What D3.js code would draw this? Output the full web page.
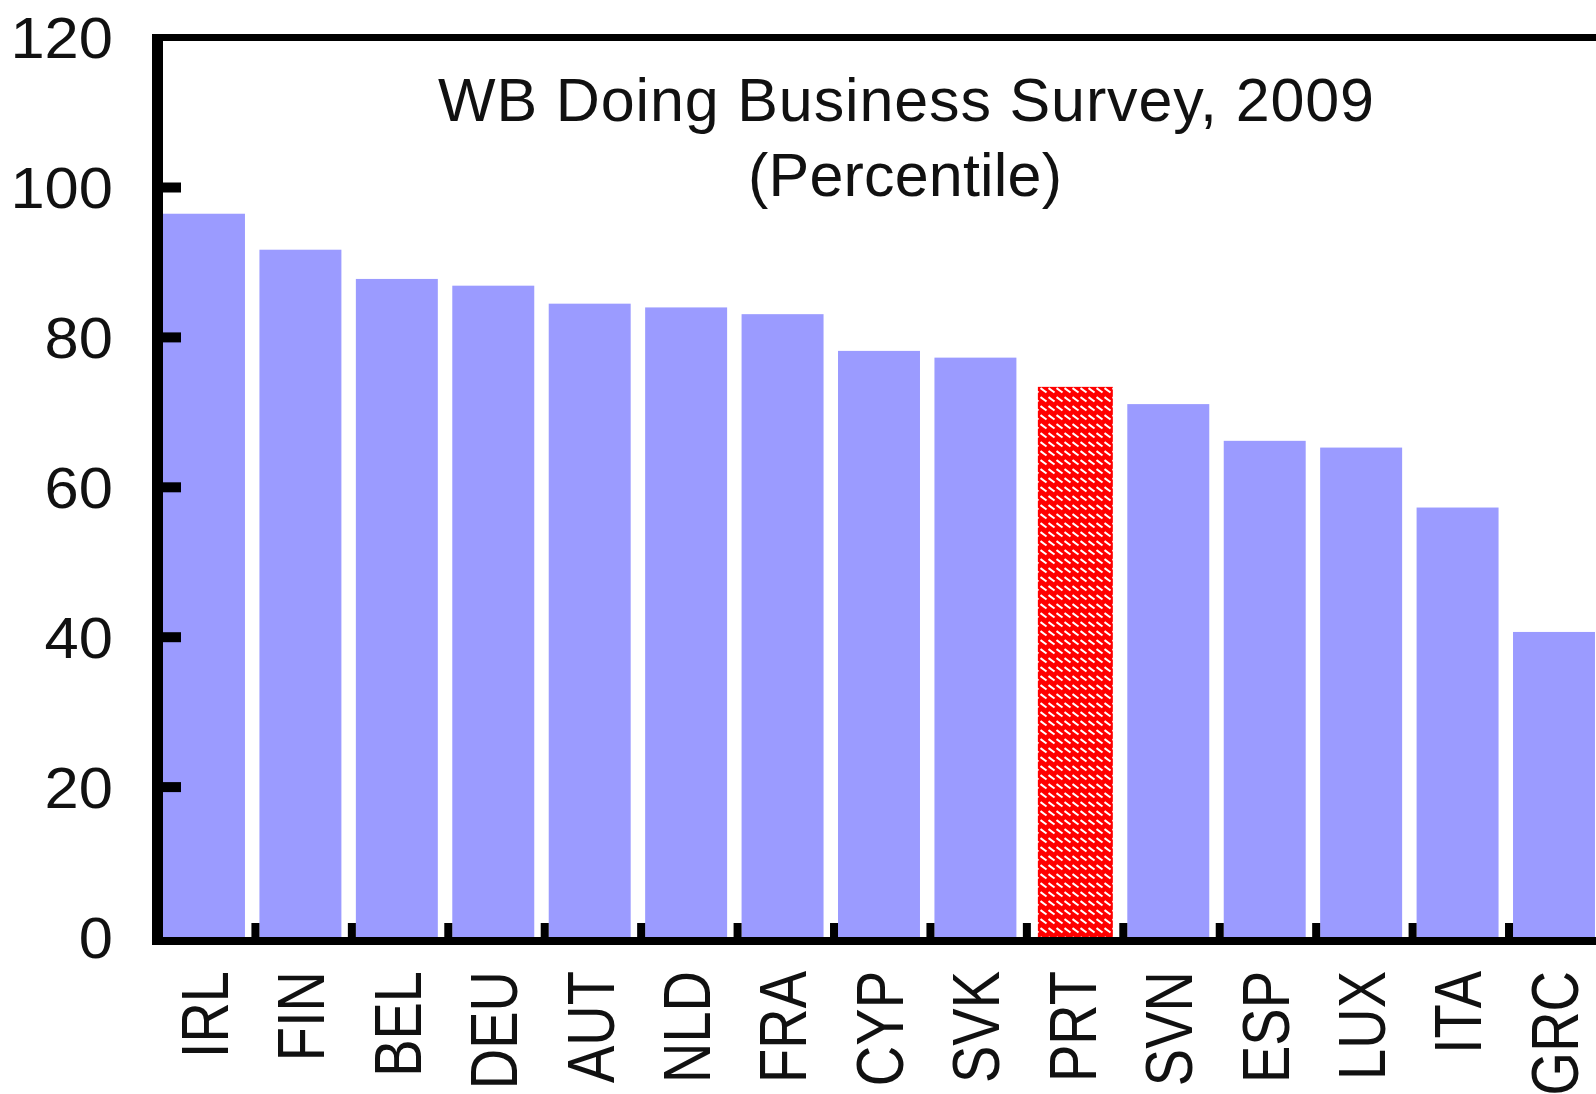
<!DOCTYPE html>
<html>
<head>
<meta charset="utf-8">
<script src="https://cdn.jsdelivr.net/npm/d3@7"></script>
<style>
  body { margin: 0; background: #fff; }
  svg { display: block; }
  text { font-family: "Liberation Sans", Arial, sans-serif; fill: #111; }
</style>
</head>
<body>
<div id="chart"></div>
<script>
// data
var countries = ["IRL", "FIN", "BEL", "DEU", "AUT", "NLD", "FRA", "CYP", "SVK", "PRT", "SVN", "ESP", "LUX", "ITA", "GRC"];
var percentile = [96.5, 91.7, 87.8, 86.9, 84.5, 84.0, 83.1, 78.2, 77.3, 73.4, 71.1, 66.2, 65.3, 57.3, 40.7];
var highlight = "PRT";
var yTicks = [0, 20, 40, 60, 80, 100, 120];
var titleLines = ["WB Doing Business Survey, 2009", "(Percentile)"];

var width = 1596, height = 1094;
var margin = {top: 37.6, left: 163, bottom: height - 937};

var data = countries.map(function(c, i) { return {country: c, value: percentile[i]}; });

var svg = d3.select("#chart").append("svg")
  .attr("width", width)
  .attr("height", height);

// hatch for the highlighted bar
var pat = svg.append("defs").append("pattern")
  .attr("id", "hatch")
  .attr("patternUnits", "userSpaceOnUse")
  .attr("width", 8)
  .attr("height", 9);
pat.append("rect").attr("width", 8).attr("height", 9).attr("fill", "#ff0000");
pat.append("line")
  .attr("x1", 0.5).attr("y1", 1).attr("x2", 6.5).attr("y2", 5.5)
  .attr("stroke", "#fff").attr("stroke-width", 2);

var x = d3.scaleBand()
  .domain(countries)
  .range([margin.left, margin.left + 96.43 * 14.85])
  .paddingInner(0.15)
  .paddingOuter(0)
  .align(0);

var y = d3.scaleLinear()
  .domain([0, 120])
  .range([height - margin.bottom, margin.top]);

// bars
svg.append("g").selectAll("rect")
  .data(data)
  .enter().append("rect")
  .attr("x", d => d.country == highlight ? x(d.country) + 7 : x(d.country))
  .attr("width", d => d.country == highlight ? x.bandwidth() - 7 : x.bandwidth())
  .attr("y", d => y(d.value))
  .attr("height", d => y(0) - y(d.value))
  .attr("fill", d => d.country == highlight ? "url(#hatch)" : "#9b9bff");

// frame: left, top, bottom
var frame = svg.append("g").attr("stroke", "#000");
frame.append("line")
  .attr("x1", 157.5).attr("x2", 157.5)
  .attr("y1", y(120) - 3.5).attr("y2", y(0) + 8)
  .attr("stroke-width", 11);
frame.append("line")
  .attr("x1", 152).attr("x2", width)
  .attr("y1", y(120)).attr("y2", y(120))
  .attr("stroke-width", 7);
frame.append("line")
  .attr("x1", 152).attr("x2", width)
  .attr("y1", y(0) + 4).attr("y2", y(0) + 4)
  .attr("stroke-width", 8);

// y ticks and labels
var yAxis = svg.append("g");
yAxis.selectAll("line")
  .data(yTicks.filter(t => t > 0 && t < 120))
  .enter().append("line")
  .attr("x1", 160).attr("x2", 181)
  .attr("y1", d => y(d)).attr("y2", d => y(d))
  .attr("stroke", "#000").attr("stroke-width", 10);
yAxis.selectAll("text")
  .data(yTicks)
  .enter().append("text")
  .attr("transform", d => "translate(113," + y(d) + ") scale(1.06,1)")
  .attr("text-anchor", "end")
  .attr("dy", "0.36em")
  .attr("font-size", 58)
  .text(d => d);

// x ticks between the bars
var xAxis = svg.append("g");
xAxis.selectAll("rect")
  .data(countries.slice(1))
  .enter().append("rect")
  .attr("x", d => x(d) - 8)
  .attr("width", 8)
  .attr("y", y(0) - 14)
  .attr("height", 14)
  .attr("fill", "#000");
xAxis.selectAll("text")
  .data(countries)
  .enter().append("text")
  .attr("transform", d => "translate(" + (x(d) + x.bandwidth() / 2) + ",971) scale(1.18,1) rotate(-90)")
  .attr("text-anchor", "end")
  .attr("dy", "0.36em")
  .attr("font-size", 56)
  .text(d => d);

// title
svg.append("text")
  .attr("x", 906).attr("y", 120.5)
  .attr("text-anchor", "middle")
  .attr("font-size", 61)
  .attr("textLength", 936)
  .attr("lengthAdjust", "spacing")
  .text(titleLines[0]);
svg.append("text")
  .attr("x", 905).attr("y", 195.5)
  .attr("text-anchor", "middle")
  .attr("font-size", 61)
  .attr("textLength", 314)
  .attr("lengthAdjust", "spacing")
  .text(titleLines[1]);
</script>
</body>
</html>
